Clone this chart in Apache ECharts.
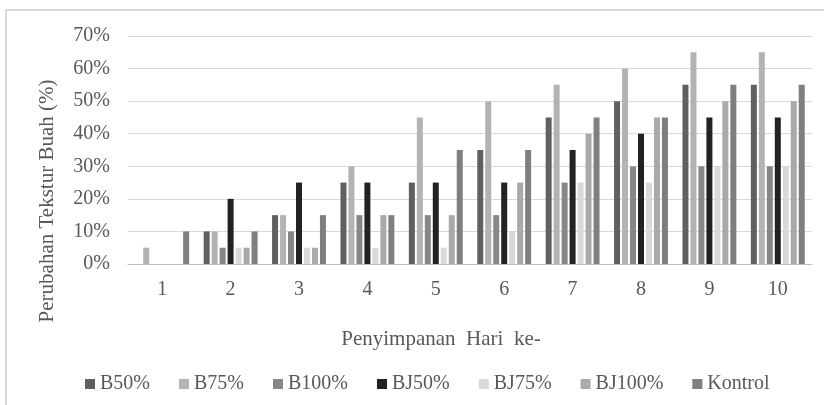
<!DOCTYPE html>
<html>
<head>
<meta charset="utf-8">
<script src="https://cdn.jsdelivr.net/npm/echarts@6/dist/echarts.min.js"></script>
<style>html,body{margin:0;padding:0;background:#fff}#c{width:824px;height:405px}</style>
</head>
<body>
<div id="c"></div>
<script>
const categories = ['1','2','3','4','5','6','7','8','9','10'];
const seriesNames = ['B50%','B75%','B100%','BJ50%','BJ75%','BJ100%','Kontrol'];
const B50 =     [0, 10, 15, 25, 25, 35, 45, 50, 55, 55];
const B75 =     [5, 10, 15, 30, 45, 50, 55, 60, 65, 65];
const B100 =    [0, 5, 10, 15, 15, 15, 25, 30, 30, 30];
const BJ50 =    [0, 20, 25, 25, 25, 25, 35, 40, 45, 45];
const BJ75 =    [0, 5, 5, 5, 5, 10, 25, 25, 30, 30];
const BJ100 =   [0, 5, 5, 15, 15, 25, 40, 45, 50, 50];
const Kontrol = [10, 10, 15, 15, 35, 35, 45, 45, 55, 55];
const seriesData = [B50, B75, B100, BJ50, BJ75, BJ100, Kontrol];
const colors = ['#606060','#b3b3b3','#878787','#222222','#d9d9d9','#a9a9a9','#7f7f7f'];

const font = 'Liberation Serif';
const txt = '#595959';
const chart = echarts.init(document.getElementById('c'));
chart.setOption({
  animation: false,
  color: colors,
  grid: { left: 128, right: 12, top: 36, bottom: 141 },
  legend: {
    data: seriesNames,
    left: 80, top: 369,
    icon: 'rect', itemWidth: 10, itemHeight: 10, itemGap: 29,
    textStyle: { fontFamily: font, fontSize: 20, color: txt }
  },
  xAxis: {
    type: 'category', data: categories,
    axisLine: { lineStyle: { color: '#bfbfbf', width: 1 } },
    axisTick: { show: false },
    axisLabel: { fontFamily: font, fontSize: 20, color: txt, margin: 16 }
  },
  yAxis: {
    type: 'value', min: 0, max: 70, interval: 10,
    axisLine: { show: false }, axisTick: { show: false },
    splitLine: { lineStyle: { color: '#d9d9d9', width: 1 } },
    axisLabel: { fontFamily: font, fontSize: 20, color: txt, margin: 18, formatter: '{value}%' }
  },
  graphic: [
    { type: 'rect', shape: { x: 6, y: 10, width: 840, height: 420 }, style: { fill: 'none', stroke: '#d9d9d9', lineWidth: 2 } },
    { type: 'text', x: 47, y: 201, rotation: Math.PI / 2,
      style: { text: 'Perubahan Tekstur Buah (%)', fontFamily: font, fontSize: 21, fill: txt, textAlign: 'center', textVerticalAlign: 'middle' } },
    { type: 'text', x: 441, y: 339,
      style: { text: 'Penyimpanan  Hari  ke-', fontFamily: font, fontSize: 21, fill: txt, textAlign: 'center', textVerticalAlign: 'middle' } }
  ],
  series: seriesNames.map((n, i) => ({
    name: n, type: 'bar', data: seriesData[i],
    barWidth: 6, barGap: '33%'
  }))
});
</script>
</body>
</html>
